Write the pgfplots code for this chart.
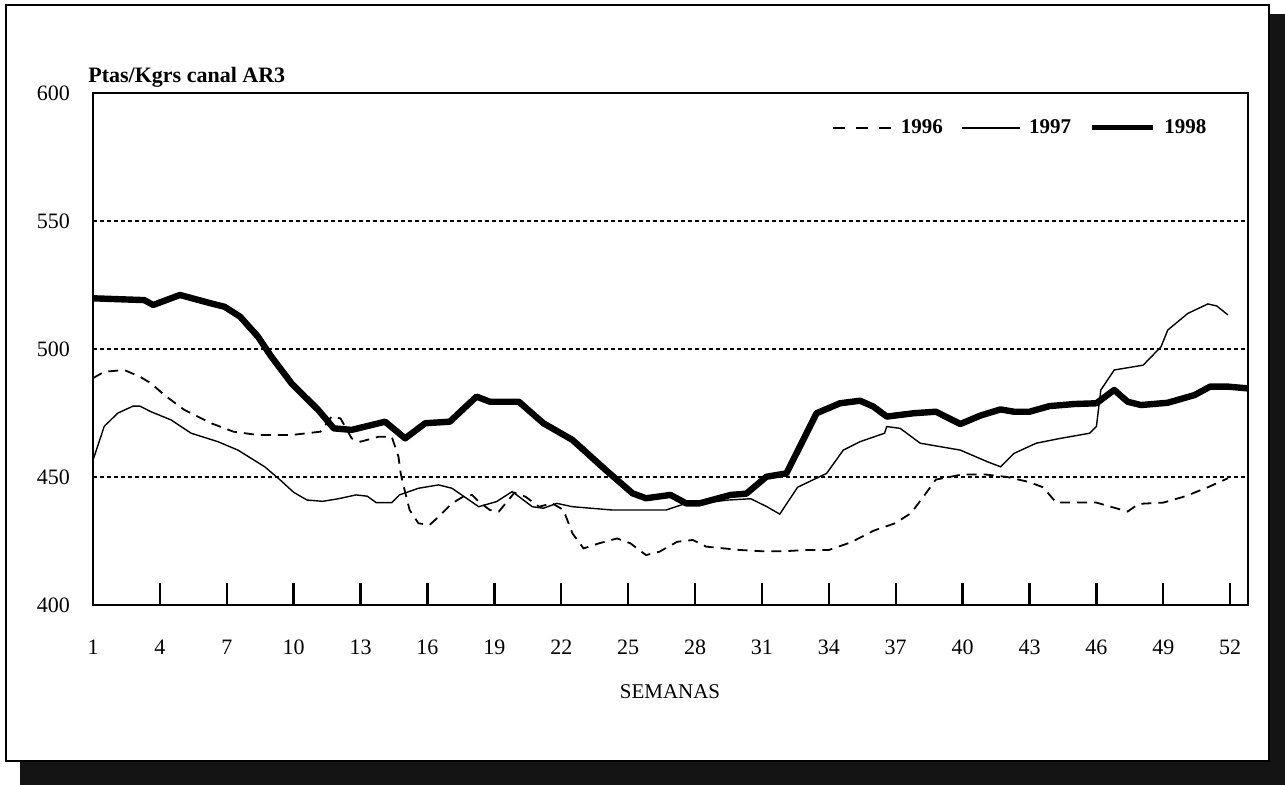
\documentclass[border=0pt]{standalone}
\usepackage{pgfplots}
\pgfplotsset{compat=1.18}
\usepackage{fontspec}
\setmainfont{Liberation Serif}
\begin{document}
\begin{tikzpicture}[font=\fontsize{10.5}{12}\selectfont]
\useasboundingbox (0pt,0pt) rectangle (642.5pt,-392.5pt);
\fill[black!92] (10pt,-7pt) rectangle (642.5pt,-392.5pt);
\draw[fill=white, line width=0.75pt] (3pt,-2.5pt) rectangle (634.5pt,-380.5pt);
\begin{axis}[
  at={(46.5pt,-302.5pt)}, anchor=south west,
  scale only axis, width=577.5pt, height=256pt,
  xmin=1, xmax=52.8, ymin=400, ymax=600,
  axis line style={line width=1pt},
  xtick={1,4,...,52},
  xtick pos=bottom,
  major tick length=11pt,
  tick align=inside,
  xtick style={line width=1.2pt, black},
  ytick={400,450,...,600},
  ytick style={draw=none},
  ymajorgrids,
  major grid style={black, line width=0.9pt, dash pattern=on 2pt off 1.5pt},
  /pgf/number format/assume math mode=true,
  tick label style={font=\fontsize{11}{13}\selectfont},
  xticklabel shift=14pt,
  yticklabel shift=8pt,
  legend columns=3,
  legend image code/.code={\draw[#1] (0pt,0pt) -- (29pt,0pt);},
  legend style={draw=none, fill=none, at={(0.973,0.932)}, anchor=east,
    font=\fontsize{10.5}{12}\selectfont\bfseries,
    /tikz/every odd column/.append style={column sep=2.5pt},
    /tikz/every even column/.append style={column sep=7pt}},
]
\addplot[black, line width=0.9pt, dash pattern=on 5pt off 3.5pt,
  legend image code/.code={\draw[black, line width=0.9pt, dash pattern=on 6pt off 5.5pt] (0pt,0pt) -- (29pt,0pt);}] coordinates {
(1,488.6)(1.5,491.1)(2.4,491.8)(3.1,489.2)(3.6,486.6)(4.2,482)(5.1,476.2)(6.3,471)(7.3,467.7)(8.4,466.4)(9.9,466.4)(11.2,467.7)(11.7,473.6)(12.1,472.9)(12.6,465.1)(13,463.8)(13.8,465.7)(14.4,465.7)(14.7,457.9)(14.8,451.4)(14.9,447.5)(15.2,437.1)(15.6,431.9)(16.1,431.3)(16.5,434.5)(17.1,439.7)(17.6,442.3)(18,443)(18.3,440.4)(18.8,437.1)(19.2,436.5)(19.7,441.7)(19.9,443.9)(20.4,442.3)(21,438.4)(21.6,439.7)(22.1,437.1)(22.5,428)(23,422.1)(23.7,424.1)(24.5,426)(25.1,424.1)(25.8,419.5)(26.4,420.8)(27.2,424.7)(27.9,425.4)(28.5,422.8)(29.3,422.1)(30,421.5)(31,421)(32,421)(33,421.5)(34,421.5)(35,424.5)(36,429)(37,432)(37.7,436)(38.3,443)(38.8,449)(40,451)(41,451)(42,450)(43,448)(43.6,446)(44.2,440)(46,440)(47,437.5)(47.4,436.5)(47.9,439.5)(49,440)(50,442.5)(51,446)(51.9,449.5)
};
\addlegendentry{1996}
\addplot[black, line width=0.7pt] coordinates {
(1,456.6)(1.5,469.7)(2.1,474.9)(2.8,477.7)(3.1,477.7)(3.6,475.5)(4.5,472.3)(5.4,467.1)(6.6,463.8)(7.5,460.5)(8.7,454)(9.4,448.8)(10,444)(10.6,441)(11.3,440.5)(12,441.5)(12.8,443)(13.3,442.5)(13.7,440)(14.4,440)(14.74,443)(15.6,445.6)(16.5,446.9)(17.1,445.6)(18.3,438.4)(19.1,440.4)(19.8,444.3)(20.7,438.4)(21.2,437.8)(21.8,439.7)(22.5,438.4)(24.3,437.1)(26.7,437.1)(27.6,439.7)(28.5,440)(29.5,441)(30.5,441.5)(31.2,438.5)(31.8,435.5)(32.6,446)(33.2,448.5)(33.9,451.4)(34.65,460.5)(35.4,463.8)(36.5,467.1)(36.6,469.7)(37.2,469)(38.1,463.2)(39.9,460.5)(41.1,456)(41.7,454)(42.3,459.2)(43.3,463.2)(44.4,465.1)(45.7,467.1)(46,469.7)(46.2,484)(46.8,491.8)(48.1,493.7)(48.9,500.9)(49.2,507.4)(50.1,513.9)(51,517.6)(51.4,516.8)(51.9,513.3)
};
\addlegendentry{1997}
\addplot[black, line width=3.2pt, line join=round,
  legend image code/.code={\draw[black, line width=2.6pt] (0pt,0pt) -- (30.5pt,0pt);}] coordinates {
(1,519.8)(3.3,519.1)(3.7,517.2)(4.9,521.1)(6.3,517.8)(6.9,516.5)(7.6,512.6)(8.4,504.8)(9,497)(9.9,486.6)(11.1,476.2)(11.8,469)(12.6,468.4)(14.1,471.6)(15,465.1)(15.9,471)(17,471.6)(18.2,481.4)(18.8,479.4)(20.1,479.4)(21.2,471)(22.5,464.5)(24,452.7)(25.2,443.6)(25.8,441.7)(26.9,443)(27.6,439.7)(28.2,439.7)(29.6,443)(30.3,443.5)(31.2,450.1)(32.1,451.4)(33.45,474.9)(34.5,478.8)(35.4,479.8)(36,477.5)(36.6,473.6)(37.8,474.9)(38.8,475.5)(39.9,470.7)(40.8,474)(41.7,476.4)(42.3,475.5)(43,475.5)(43.9,477.7)(45,478.5)(46,478.8)(46.8,484)(47.4,479.4)(48,478.1)(49.2,479)(50.4,482)(51.1,485.3)(51.9,485.3)(52.8,484.6)
};
\addlegendentry{1998}
\end{axis}
\node[anchor=base west, inner sep=0pt, font=\fontsize{11}{13}\selectfont\bfseries] at (44pt,-41.5pt) {Ptas/Kgrs canal AR3};
\node[inner sep=0pt] at (335pt,-346pt) {SEMANAS};
\end{tikzpicture}
\end{document}
